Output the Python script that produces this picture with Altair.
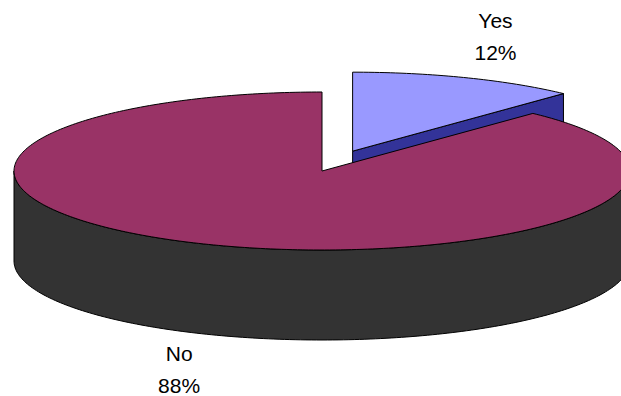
import math
import altair as alt

# ---- data ----
categories = ["Yes", "No"]
values = [12, 88]
pct_labels = ["12%", "88%"]

# ---- styling / geometry constants ----
RY = 79 / 308          # ellipse vertical radius relative to horizontal radius
DEPTH = 90 / 308       # extrusion depth
EXPLODE = {"Yes": 0.27, "No": 0.0}
LABEL_KX, LABEL_KY = 1.26, 1.52
COLORS = {
    "Yes top": "#9999FF", "Yes side": "#333399",
    "No top": "#993366", "No side": "#333333",
}


def ell(t_deg, off=(0.0, 0.0), dz=0.0):
    t = math.radians(t_deg)
    return [math.cos(t) + off[0], RY * math.sin(t) + off[1] - dz]


def arc(a0, a1, off, dz=0.0):
    # from a0 down to a1 (clockwise), 1-degree steps
    n = max(2, int(abs(a0 - a1)) + 1)
    return [ell(a0 + (a1 - a0) * i / (n - 1), off, dz) for i in range(n)]


def feature(part, ring):
    ring = ring + [ring[0]]
    return {"type": "Feature", "properties": {"part": part},
            "geometry": {"type": "Polygon", "coordinates": [ring]}}


total = sum(values)
slices = []
start = 90.0
for cat, v, lab in zip(categories, values, pct_labels):
    sweep = 360.0 * v / total
    a0, a1 = start, start - sweep
    mid = (a0 + a1) / 2
    m = math.radians(mid)
    f = EXPLODE[cat]
    off = (f * math.cos(m), f * RY * math.sin(m))
    slices.append(dict(cat=cat, a0=a0, a1=a1, mid=mid, off=off, lab=lab))
    start = a1

features = []
# back slices first
for s in sorted(slices, key=lambda s: -math.sin(math.radians(s["mid"]))):
    cat, a0, a1, off = s["cat"], s["a0"], s["a1"], s["off"]
    c_top = [off[0], off[1]]
    c_bot = [off[0], off[1] - DEPTH]
    # radial faces
    for a, normal in ((a0, a0 + 90), (a1, a1 - 90)):
        if math.sin(math.radians(normal)) < -1e-6:
            features.append(feature(f"{cat} side",
                                    [c_top, ell(a, off), ell(a, off, DEPTH), c_bot]))
    # outer wall: visible where sin(angle) < 0
    for k in range(-2, 2):
        lo, hi = -180 + 360 * k, 0 + 360 * k
        b0, b1 = min(a0, hi), max(a1, lo)
        if b0 - b1 > 0.01:
            top = arc(b0, b1, off)
            bot = arc(b0, b1, off, DEPTH)
            features.append(feature(f"{cat} side", top + bot[::-1]))
    # top face
    features.append(feature(f"{cat} top", [c_top] + arc(a0, a1, off)))

label_rows = []
for s in slices:
    m = math.radians(s["mid"])
    x = LABEL_KX * math.cos(m) + s["off"][0]
    y = LABEL_KY * RY * math.sin(m) + s["off"][1]
    if math.sin(m) < 0:
        y -= DEPTH
    label_rows.append({"lon": x, "lat": y, "name": s["cat"], "pct": s["lab"]})

shapes = alt.Chart(alt.Data(values=features)).mark_geoshape(
    stroke="black", strokeWidth=1, strokeJoin="miter"
).encode(
    fill=alt.Fill("properties.part:N",
                  scale=alt.Scale(domain=list(COLORS.keys()), range=list(COLORS.values())),
                  legend=None)
)

text_style = dict(font="Liberation Sans", fontSize=21, align="center",
                  baseline="alphabetic", color="black")
names = alt.Chart(alt.Data(values=label_rows)).mark_text(dy=-12, **text_style).encode(
    longitude="lon:Q", latitude="lat:Q", text="name:N"
)
pcts = alt.Chart(alt.Data(values=label_rows)).mark_text(dy=20, **text_style).encode(
    longitude="lon:Q", latitude="lat:Q", text="pct:N"
)

chart = alt.layer(shapes, names, pcts).project(
    type="identity", reflectY=True, scale=308, translate=[322, 171]
).properties(
    width=621, height=396, padding=0, autosize=alt.AutoSizeParams(type="none"),
    background="white"
).configure_view(stroke=None)

chart.save("out.html", embed_options={"renderer": "svg", "actions": False})
